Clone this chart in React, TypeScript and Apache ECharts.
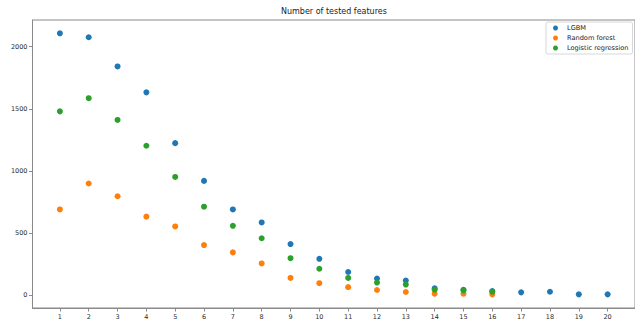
import React, { useEffect, useRef } from "react";
import * as echarts from "echarts";

const features = [1, 2, 3, 4, 5, 6, 7, 8, 9, 10, 11, 12, 13, 14, 15, 16, 17, 18, 19, 20];
const lgbm = [2108, 2076, 1841, 1632, 1223, 919, 689, 584, 410, 291, 185, 132, 116, 53, 42, 32, 21, 26, 5, 5];
const randomForest = [689, 898, 795, 631, 552, 402, 343, 254, 137, 95, 63, 40, 24, 10, 10, 5];
const logistic = [1479, 1585, 1410, 1202, 951, 711, 557, 457, 296, 211, 137, 100, 84, 42, 37, 26];
const yTicks = [0, 500, 1000, 1500, 2000];

const pairs = (vals: number[]) => vals.map((v, i) => [features[i], v]);

export default function App() {
  const ref = useRef<HTMLDivElement>(null);
  useEffect(() => {
    if (!ref.current) return;
    const chart = echarts.init(ref.current, null, { renderer: "svg" });
    const font = "DejaVu Sans";
    const axisColor = "#8a8a8a";
    const labelColor = "#2a2a2a";
    chart.setOption({
      animation: false,
      title: {
        text: "Number of tested features",
        left: 281,
        top: 7,
        padding: 0,
        textStyle: { fontFamily: font, fontSize: 8, fontWeight: "normal", color: "#222" },
      },
      legend: {
        orient: "vertical",
        left: 546,
        top: 22,
        padding: [1, 4, 1, 7],
        itemWidth: 5,
        itemHeight: 5,
        itemGap: 0,
        icon: "circle",
        borderColor: "#d8d8d8",
        borderWidth: 1,
        borderRadius: 2,
        textStyle: { fontFamily: font, fontSize: 6.6, color: "#222", lineHeight: 10, padding: [0, 0, 0, 4] },
        data: ["LGBM", "Random forest", "Logistic regression"],
      },
      grid: {
        left: 32.5,
        top: 20,
        width: 606,
        height: 292,
        containLabel: false,
        show: true,
        borderColor: axisColor,
        borderWidth: 1,
        backgroundColor: "transparent",
      },
      xAxis: {
        type: "value",
        min: 0.05,
        max: 20.95,
        splitLine: { show: false },
        axisLine: { show: true, onZero: false, lineStyle: { color: axisColor, width: 1 } },
        axisTick: { show: true, length: 3.5, customValues: features, lineStyle: { color: axisColor } },
        axisLabel: {
          customValues: features,
          margin: 5,
          fontFamily: font,
          fontSize: 6.5,
          color: labelColor,
          formatter: (v: number) => String(v),
        },
      },
      yAxis: {
        type: "value",
        min: -105,
        max: 2215,
        splitLine: { show: false },
        axisLine: { show: true, onZero: false, lineStyle: { color: axisColor, width: 1 } },
        axisTick: { show: true, length: 3.5, customValues: yTicks, lineStyle: { color: axisColor } },
        axisLabel: {
          customValues: yTicks,
          margin: 5,
          fontFamily: font,
          fontSize: 6.5,
          color: labelColor,
          formatter: (v: number) => String(v),
        },
      },
      series: [
        { name: "LGBM", type: "scatter", data: pairs(lgbm), symbolSize: 6, itemStyle: { color: "#1f77b4", opacity: 1 } },
        { name: "Random forest", type: "scatter", data: pairs(randomForest), symbolSize: 6, itemStyle: { color: "#ff7f0e", opacity: 1 } },
        { name: "Logistic regression", type: "scatter", data: pairs(logistic), symbolSize: 6, itemStyle: { color: "#2ca02c", opacity: 1 } },
      ],
    });
    return () => chart.dispose();
  }, []);
  return <div ref={ref} style={{ position: "absolute", left: 0, top: 0, width: 635, height: 320 }} />;
}
